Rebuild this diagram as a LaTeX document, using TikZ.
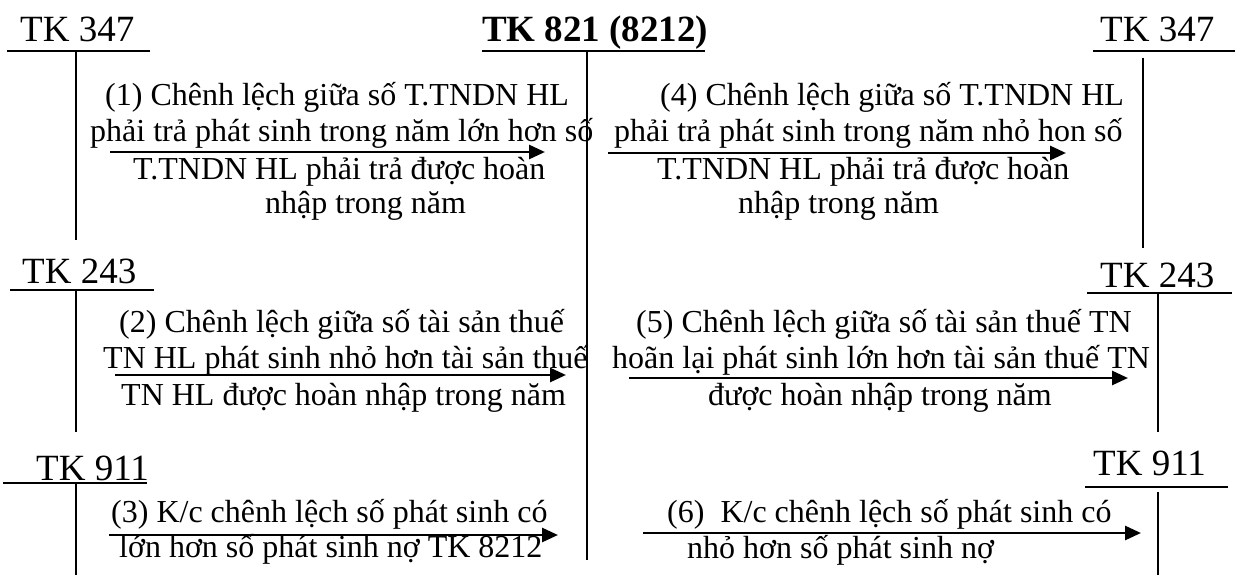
\documentclass[tikz,border=0pt]{standalone}
\usepackage{fontspec}
\setmainfont{Liberation Serif}
\usetikzlibrary{arrows.meta}
\begin{document}
\begin{tikzpicture}[x=1pt,y=-1pt,
  acct/.style={anchor=base west,inner sep=0pt,font=\fontsize{37}{44}\selectfont},
  txt/.style={anchor=base west,inner sep=0pt,font=\fontsize{32}{38}\selectfont},
  tline/.style={line width=2pt},
  flow/.style={line width=2.8pt,-{Triangle[length=16pt,width=14pt]}}]
\useasboundingbox (0,0) rectangle (1235,575);

% account titles
\node[acct] (t347L) at (20,42) {TK 347};
\node[acct,font=\fontsize{37}{44}\selectfont\bfseries] (t821) at (482,42) {TK 821 (8212)};
\node[acct] (t347R) at (1100,42) {TK 347};
\node[acct] (t243L) at (22,283) {TK 243};
\node[acct] (t243R) at (1100,287) {TK 243};
\node[acct] (t911L) at (36,480) {TK 911};
\node[acct] (t911R) at (1093,475) {TK 911};

% T-account rules
\draw[tline] (7,51) -- (150,51) (76,51) -- (76,240);
\draw[tline] (482,51) -- (705,51) (587,51) -- (587,560);
\draw[tline] (1093,51) -- (1235,51) (1143,58) -- (1143,248);
\draw[tline] (10,290) -- (154,290) (76,290) -- (76,432);
\draw[tline] (1087,293) -- (1232,293) (1158,294) -- (1158,432);
\draw[tline] (3,483) -- (147,483) (76,483) -- (76,575);
\draw[tline] (1085,487) -- (1228,487) (1158,492) -- (1158,575);

% entry (1)
\node[txt] (e1a) at (105,106) {(1) Chênh lệch giữa số T.TNDN HL};
\node[txt] (e1b) at (90,142) {phải trả phát sinh trong năm lớn hơn số};
\node[txt] (e1c) at (133,180) {T.TNDN HL phải trả được hoàn};
\node[txt] (e1d) at (265,213) {nhập trong năm};
% entry (4)
\node[txt] (e4a) at (660,106) {(4) Chênh lệch giữa số T.TNDN HL};
\node[txt] (e4b) at (614,142) {phải trả phát sinh trong năm nhỏ hon số};
\node[txt] (e4c) at (657,180) {T.TNDN HL phải trả được hoàn};
\node[txt] (e4d) at (738,213) {nhập trong năm};
% entry (2)
\node[txt] (e2a) at (119,332) {(2) Chênh lệch giữa số tài sản thuế};
\node[txt] (e2b) at (103,368) {TN HL phát sinh nhỏ hơn tài sản thuế};
\node[txt] (e2c) at (121,405) {TN HL được hoàn nhập trong năm};
% entry (5)
\node[txt] (e5a) at (636,332) {(5) Chênh lệch giữa số tài sản thuế TN};
\node[txt] (e5b) at (612,368) {hoãn lại phát sinh lớn hơn tài sản thuế TN};
\node[txt] (e5c) at (708,405) {được hoàn nhập trong năm};
% entry (3)
\node[txt] (e3a) at (111,522) {(3) K/c chênh lệch số phát sinh có};
\node[txt] (e3b) at (119,557) {lớn hơn số phát sinh nợ TK 8212};
% entry (6)
\node[txt] (e6a) at (667,522) {(6)\ \ K/c chênh lệch số phát sinh có};
\node[txt] (e6b) at (687,558) {nhỏ hơn số phát sinh nợ};

% arrow end points
\coordinate (a1s) at (110,152); \coordinate (a1e) at (545,152);
\coordinate (a4s) at (608,153); \coordinate (a4e) at (1066,153);
\coordinate (a2s) at (115,375); \coordinate (a2e) at (566,375);
\coordinate (a5s) at (629,378); \coordinate (a5e) at (1128,378);
\coordinate (a3s) at (109,535); \coordinate (a3e) at (558,535);
\coordinate (a6s) at (643,533); \coordinate (a6e) at (1141,533);

\draw[flow] (a1s) -- (a1e);
\draw[flow] (a4s) -- (a4e);
\draw[flow] (a2s) -- (a2e);
\draw[flow] (a5s) -- (a5e);
\draw[flow] (a3s) -- (a3e);
\draw[flow] (a6s) -- (a6e);
\end{tikzpicture}
\end{document}
